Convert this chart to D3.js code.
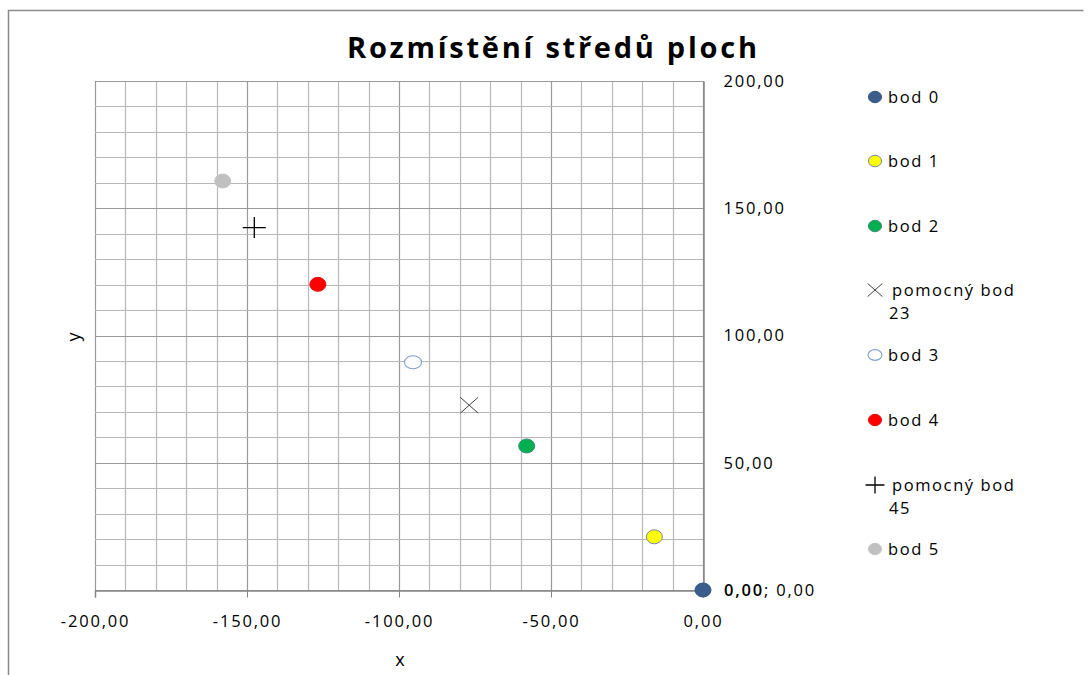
<!DOCTYPE html>
<html>
<head>
<meta charset="utf-8">
<script src="https://cdn.jsdelivr.net/npm/d3@7"></script>
<style>
  html, body { margin: 0; padding: 0; background: #fff; }
  svg { display: block; }
  text { font-family: "Open Sans", "Liberation Sans", sans-serif; fill: #000; }
</style>
</head>
<body>
<svg id="chart" width="1090" height="675"></svg>
<script>
// Souřadnice středů ploch
const names   = ["bod 0", "bod 1", "bod 2", "pomocný bod 23", "bod 3", "bod 4", "pomocný bod 45", "bod 5"];
const xValues = [0, -16, -58, -76.9, -95.4, -126.7, -147.6, -158];
const yValues = [0, 20.9, 56.6, 72.6, 89.5, 120.1, 142.4, 160.7];
const symbols = ["circle", "circle", "circle", "cross", "ring", "circle", "plus", "circle"];
const fills   = ["#3a5d8c", "#ffff00", "#00b050", "none", "#ffffff", "#ff0000", "none", "#c0c0c0"];
const strokes = ["#355785", "#7388a6", "#3f8a78", "#404040", "#7f9fcf", "#e01010", "#000000", "#c4c6cc"];

const xTicks = [-200, -150, -100, -50, 0];
const yTicks = [50, 100, 150, 200];   // 0 is carried by the origin's data label
const xMinor = d3.range(-200, 1, 10);
const yMinor = d3.range(0, 201, 10);

const title = "Rozmístění středů ploch";
const xTitle = "x";
const yTitle = "y";

const cz = d3.formatLocale({ decimal: ",", thousands: " ", grouping: [3], currency: ["", " Kč"], minus: "-" });
const fmt = cz.format(".2f");

const svg = d3.select("#chart");
const plot = { left: 95, right: 703, top: 81, bottom: 590 };

const x = d3.scaleLinear().domain([-200, 0]).range([plot.left, plot.right]);
const y = d3.scaleLinear().domain([0, 200]).range([plot.bottom, plot.top]);

// chart frame
svg.append("path")
  .attr("d", "M8.5,675 L8.5,10.5 L1083.5,10.5")
  .attr("fill", "none").attr("stroke", "#8a8a8a").attr("stroke-width", 1.5);

// gridlines
const grid = svg.append("g");
grid.selectAll("line.vx").data(xMinor).join("line")
  .attr("x1", d => Math.round(x(d)) + 0.5).attr("x2", d => Math.round(x(d)) + 0.5)
  .attr("y1", plot.top).attr("y2", plot.bottom)
  .attr("stroke", d => d % 50 === 0 ? "#9a9a9a" : "#b8b8b8").attr("stroke-width", 1.2);
grid.selectAll("line.hy").data(yMinor).join("line")
  .attr("y1", d => Math.round(y(d)) + 0.5).attr("y2", d => Math.round(y(d)) + 0.5)
  .attr("x1", plot.left).attr("x2", plot.right)
  .attr("stroke", d => d % 50 === 0 ? "#9a9a9a" : "#b8b8b8").attr("stroke-width", 1.2);

// x axis at y = 0
const xAxis = svg.append("g")
  .attr("transform", `translate(0,${Math.round(y(0)) + 0.5})`)
  .call(d3.axisBottom(x).tickValues(xTicks).tickFormat(fmt).tickSize(7).tickPadding(18));
xAxis.select(".domain").attr("stroke", "#868686").attr("stroke-width", 1.5);
xAxis.selectAll(".tick line").attr("stroke", "#868686");
xAxis.selectAll(".tick text")
  .style("font-size", "16.5px").style("letter-spacing", "1.8px").attr("fill", "#000");

// y axis at x = 0, labels to the right
const yAxis = svg.append("g")
  .attr("transform", `translate(${Math.round(x(0)) + 0.5},0)`)
  .call(d3.axisRight(y).tickValues(yTicks).tickFormat(fmt).tickSize(0).tickPadding(20));
yAxis.select(".domain").attr("stroke", "#868686").attr("stroke-width", 1.5);
yAxis.selectAll(".tick text")
  .style("font-size", "16.5px").style("letter-spacing", "1.8px").attr("fill", "#000");

// markers
function drawMarker(g, sym, fill, stroke, big) {
  const s = big ? 1 : 0.82;
  if (sym === "circle") {
    g.append("ellipse").attr("rx", 8 * s).attr("ry", 7 * s)
      .attr("fill", fill).attr("stroke", stroke).attr("stroke-width", 1);
  } else if (sym === "ring") {
    g.append("ellipse").attr("rx", 8.5 * s).attr("ry", 6.5 * s)
      .attr("fill", fill).attr("stroke", stroke).attr("stroke-width", 1.1);
  } else if (sym === "cross") {
    const a = 9 * s, b = 8 * s;
    g.append("path").attr("d", `M${-a},${-b}L${a},${b}M${-a},${b}L${a},${-b}`)
      .attr("stroke", stroke).attr("stroke-width", 1).attr("fill", "none");
  } else if (sym === "plus") {
    const a = 11.5 * s, b = 10.5 * s;
    g.append("path").attr("d", `M${-a},0L${a},0M0,${-b}L0,${b}`)
      .attr("stroke", stroke).attr("stroke-width", 1.3).attr("fill", "none");
  }
}

const points = names.map((n, i) => ({ name: n, x: xValues[i], y: yValues[i], sym: symbols[i], fill: fills[i], stroke: strokes[i] }));

const marks = svg.append("g");
points.forEach(p => {
  const g = marks.append("g").attr("transform", `translate(${x(p.x)},${y(p.y)})`);
  drawMarker(g, p.sym, p.fill, p.stroke, true);
});

// data label of the origin point (its x part doubles as the 0 tick of the y axis)
const originLabel = svg.append("text")
  .attr("x", x(xValues[0]) + 21).attr("y", y(yValues[0]))
  .attr("dy", "0.35em")
  .style("font-size", "16.5px").style("letter-spacing", "1.8px");
originLabel.append("tspan").style("font-weight", "600").text(fmt(xValues[0]));
originLabel.append("tspan").text("; " + fmt(yValues[0]));

// title
svg.append("text")
  .attr("x", 552).attr("y", 58)
  .attr("text-anchor", "middle")
  .style("font-size", "29px").style("font-weight", "bold")
  .attr("textLength", 410).attr("lengthAdjust", "spacing")
  .text(title);

// axis titles
svg.append("text")
  .attr("x", 400).attr("y", 666).attr("text-anchor", "middle")
  .style("font-size", "18px").text(xTitle);
svg.append("text")
  .attr("transform", "translate(80,337) rotate(-90)").attr("text-anchor", "middle")
  .style("font-size", "18px").text(yTitle);

// legend
const legendRows = [97, 161, 226, 290, 355, 420, 485, 549];
const legend = svg.append("g");
points.forEach((p, i) => {
  const g = legend.append("g").attr("transform", `translate(875,${legendRows[i]})`);
  drawMarker(g, p.sym, p.fill, p.stroke, false);
  const helper = p.sym === "cross" || p.sym === "plus";
  const t = g.append("text")
    .attr("x", helper ? 17 : 13).attr("y", 0).attr("dy", "0.35em")
    .style("font-size", "16.5px").style("letter-spacing", "1.6px");
  if (helper) {
    const parts = p.name.split(" ");
    const last = parts.pop();
    t.append("tspan").attr("x", 17).text(parts.join(" "));
    t.append("tspan").attr("x", 14).attr("dy", "1.42em").text(last);
  } else {
    t.text(p.name);
  }
});
</script>
</body>
</html>
